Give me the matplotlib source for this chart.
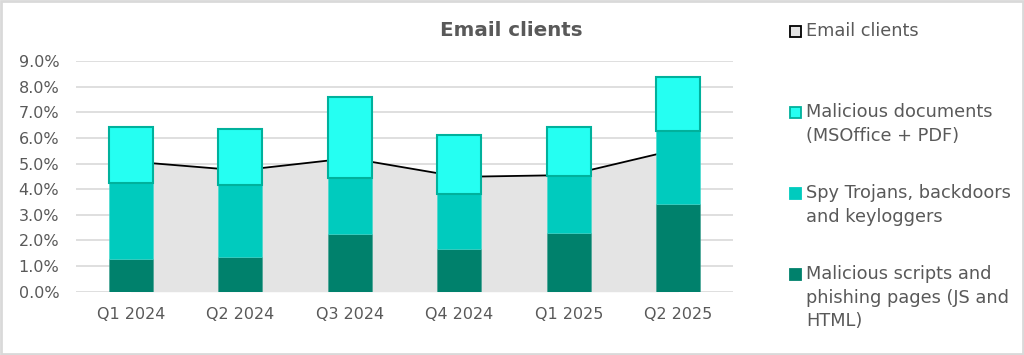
import matplotlib
matplotlib.use("Agg")
import matplotlib.pyplot as plt
from matplotlib.patches import Rectangle
from matplotlib.ticker import PercentFormatter
import numpy as np

plt.rcParams['font.family'] = ['DejaVu Sans']

categories = ["Q1 2024", "Q2 2024", "Q3 2024", "Q4 2024", "Q1 2025", "Q2 2025"]
email_clients = [5.08, 4.73, 5.21, 4.48, 4.55, 5.56]
scripts_phishing = [1.28, 1.34, 2.25, 1.68, 2.30, 3.42]
spy_trojans = [2.95, 2.82, 2.20, 2.13, 2.21, 2.85]
malicious_docs = [2.21, 2.18, 3.15, 2.29, 1.93, 2.12]

title = "Email clients"
legend_labels = [
    "Email clients",
    "Malicious documents\n(MSOffice + PDF)",
    "Spy Trojans, backdoors\nand keyloggers",
    "Malicious scripts and\nphishing pages (JS and\nHTML)",
]

C_DOC = "#25FFF2"
C_DOC_EDGE = "#00B19C"
C_SPY = "#00CBBE"
C_SCR = "#00816C"
C_AREA = "#E4E4E4"
TXT = "#595959"

fig = plt.figure(figsize=(10.24, 3.55), dpi=100)
ax = fig.add_axes([76 / 1024, 1 - 291.7 / 355, (733 - 76) / 1024, (291.7 - 61) / 355])

x = np.arange(len(categories))
w = 0.40
ax.fill_between(x, email_clients, 0, color=C_AREA, lw=0, zorder=2)
ax.plot(x, email_clients, color="black", lw=1.3, zorder=3)

b1 = np.array(scripts_phishing)
b2 = b1 + np.array(spy_trojans)
ax.bar(x, scripts_phishing, width=w, color=C_SCR, zorder=4, edgecolor="#3aa08f", lw=0.4)
ax.bar(x, spy_trojans, width=w, bottom=b1, color=C_SPY, zorder=4, edgecolor="#40d8cc", lw=0.4)
ax.bar(x, malicious_docs, width=w, bottom=b2, color=C_DOC, zorder=5, edgecolor=C_DOC_EDGE, lw=1.5)

ax.set_xlim(-0.5, len(categories) - 0.5)
ax.set_ylim(0, 9)
ax.set_yticks(np.arange(0, 9.01, 1))
ax.yaxis.set_major_formatter(PercentFormatter(decimals=1))
ax.set_xticks(x)
ax.set_xticklabels(categories)
ax.grid(axis="y", color="#D9D9D9", lw=1.2, zorder=0)
ax.set_axisbelow(True)
for s in ax.spines.values():
    s.set_visible(False)
ax.tick_params(axis="both", length=0, colors=TXT, labelsize=11.5)
ax.tick_params(axis="y", pad=12)
ax.tick_params(axis="x", pad=11)

fig.text(511.7 / 1024, 1 - 30.8 / 355, title, ha="center", va="center",
         fontsize=14.3, fontweight="bold", color=TXT)

# legend (manual)
marker_y = [31, 112, 193, 274]
faces = [C_AREA, C_DOC, C_SPY, C_SCR]
edges = ["black", C_DOC_EDGE, C_SPY, C_SCR]
for lab, my, fc, ec in zip(legend_labels, marker_y, faces, edges):
    fig.patches.append(Rectangle((789.5 / 1024, 1 - (my + 5.5) / 355), 11 / 1024, 11 / 355,
                                 transform=fig.transFigure, facecolor=fc, edgecolor=ec, lw=1.3))
    fig.text(806 / 1024, 1 - (my - 9) / 355, lab, ha="left", va="top",
             fontsize=12.8, color=TXT, linespacing=1.4)

fig.patches.append(Rectangle((0.001, 0.002), 0.998, 0.995, transform=fig.transFigure,
                             facecolor="none", edgecolor="#D9D9D9", lw=2))

fig.savefig("out.png", dpi=100)
